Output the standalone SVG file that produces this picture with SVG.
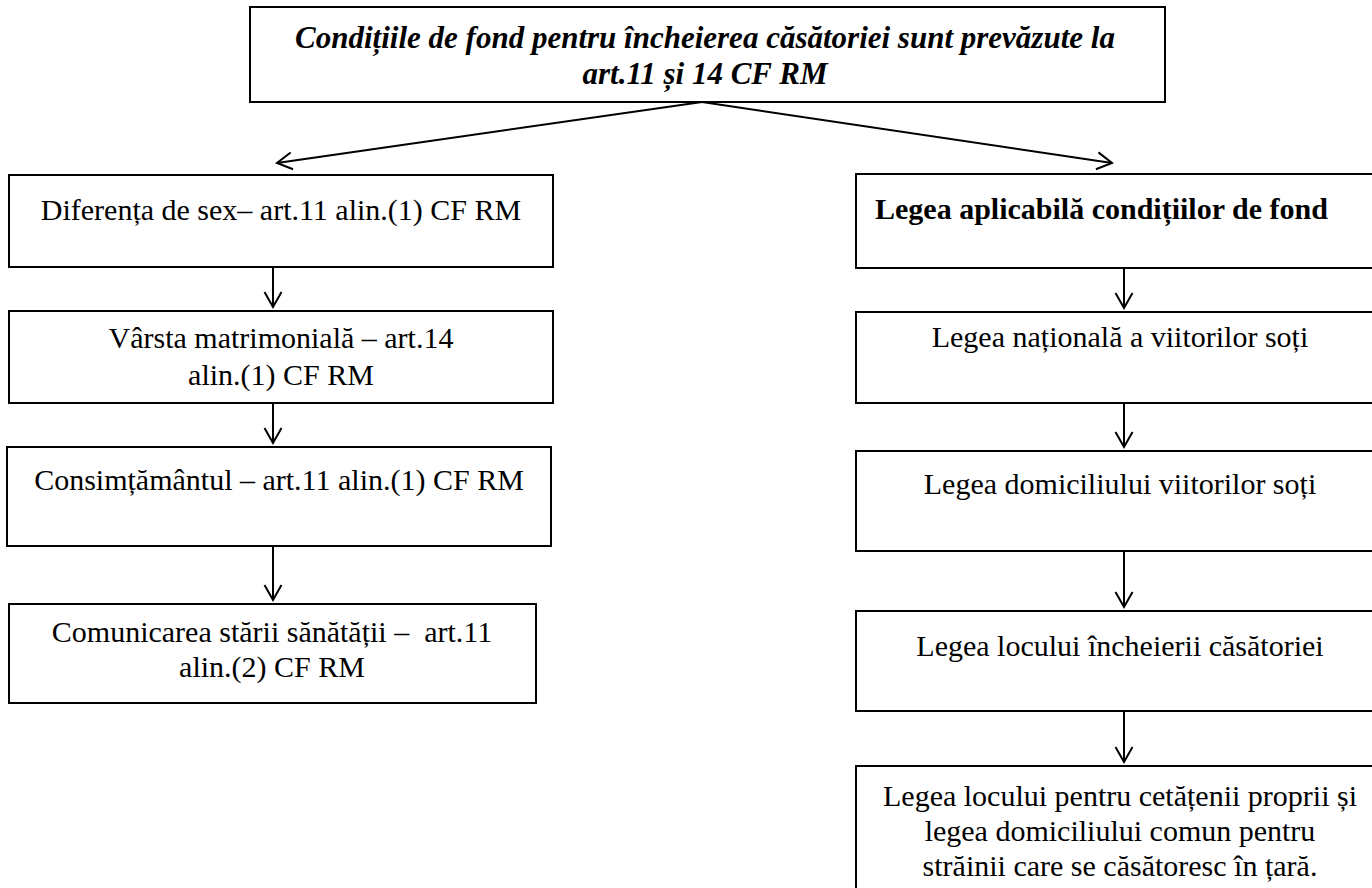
<svg xmlns="http://www.w3.org/2000/svg" width="1372" height="888" viewBox="0 0 1372 888">
<style>
  .box { fill: #ffffff; stroke: #000000; stroke-width: 2; }
  .t { font-family: 'Liberation Serif', 'Times New Roman', serif; font-size: 30px; fill: #000000; }
  .c { text-anchor: middle; }
  .title { font-family: 'Liberation Serif', 'Times New Roman', serif; font-size: 31px; font-weight: bold; font-style: italic; fill: #000000; text-anchor: middle; }
  .bold { font-weight: bold; }
  .conn { fill: none; stroke: #000000; stroke-width: 2; }
</style>
<defs>
  <marker id="arrow" markerUnits="userSpaceOnUse" markerWidth="24" markerHeight="24" viewBox="-18 -12 24 24" refX="0" refY="0" orient="auto">
    <path d="M -15 -8.5 L 0 0 L -15 8.5" fill="none" stroke="#000000" stroke-width="2"/>
  </marker>
</defs>
<rect width="1372" height="888" fill="#ffffff"/>

<g id="title">
  <rect class="box" x="250" y="7" width="915" height="95"/>
  <text class="title" x="705" y="48">Condițiile de fond pentru încheierea căsătoriei sunt prevăzute la</text>
  <text class="title" x="705" y="84">art.11 și 14 CF RM</text>
</g>

<g id="left1">
  <rect class="box" x="9" y="175" width="544" height="92"/>
  <text class="t c" x="281" y="220">Diferența de sex– art.11 alin.(1) CF RM</text>
</g>
<g id="left2">
  <rect class="box" x="9" y="311" width="544" height="92"/>
  <text class="t c" x="281" y="348">Vârsta matrimonială – art.14</text>
  <text class="t c" x="281" y="385">alin.(1) CF RM</text>
</g>
<g id="left3">
  <rect class="box" x="7" y="447" width="544" height="99"/>
  <text class="t c" x="279" y="490">Consimțământul – art.11 alin.(1) CF RM</text>
</g>
<g id="left4">
  <rect class="box" x="9" y="604" width="527" height="99"/>
  <text class="t c" x="272" y="642" xml:space="preserve">Comunicarea stării sănătății –  art.11</text>
  <text class="t c" x="272" y="677">alin.(2) CF RM</text>
</g>

<g id="right1">
  <rect class="box" x="856" y="174" width="540" height="94"/>
  <text class="t bold" x="875" y="219">Legea aplicabilă condițiilor de fond</text>
</g>
<g id="right2">
  <rect class="box" x="856" y="312" width="540" height="91"/>
  <text class="t c" x="1120" y="347">Legea națională a viitorilor soți</text>
</g>
<g id="right3">
  <rect class="box" x="856" y="451" width="540" height="100"/>
  <text class="t c" x="1120" y="494">Legea domiciliului viitorilor soți</text>
</g>
<g id="right4">
  <rect class="box" x="856" y="611" width="540" height="100"/>
  <text class="t c" x="1120" y="656">Legea locului încheierii căsătoriei</text>
</g>
<g id="right5">
  <rect class="box" x="856" y="766" width="540" height="135"/>
  <text class="t c" x="1120" y="806">Legea locului pentru cetățenii proprii și</text>
  <text class="t c" x="1120" y="841">legea domiciliului comun pentru</text>
  <text class="t c" x="1120" y="876">străinii care se căsătoresc în țară.</text>
</g>

<g id="connectors">
  <line class="conn" x1="702" y1="102" x2="277" y2="163" marker-end="url(#arrow)"/>
  <line class="conn" x1="702" y1="102" x2="1112" y2="163" marker-end="url(#arrow)"/>
  <line class="conn" x1="273" y1="267" x2="273" y2="307" marker-end="url(#arrow)"/>
  <line class="conn" x1="273" y1="403" x2="273" y2="443" marker-end="url(#arrow)"/>
  <line class="conn" x1="273" y1="546" x2="273" y2="600" marker-end="url(#arrow)"/>
  <line class="conn" x1="1124" y1="268" x2="1124" y2="308" marker-end="url(#arrow)"/>
  <line class="conn" x1="1124" y1="403" x2="1124" y2="447" marker-end="url(#arrow)"/>
  <line class="conn" x1="1124" y1="551" x2="1124" y2="607" marker-end="url(#arrow)"/>
  <line class="conn" x1="1124" y1="711" x2="1124" y2="762" marker-end="url(#arrow)"/>
</g>
</svg>
